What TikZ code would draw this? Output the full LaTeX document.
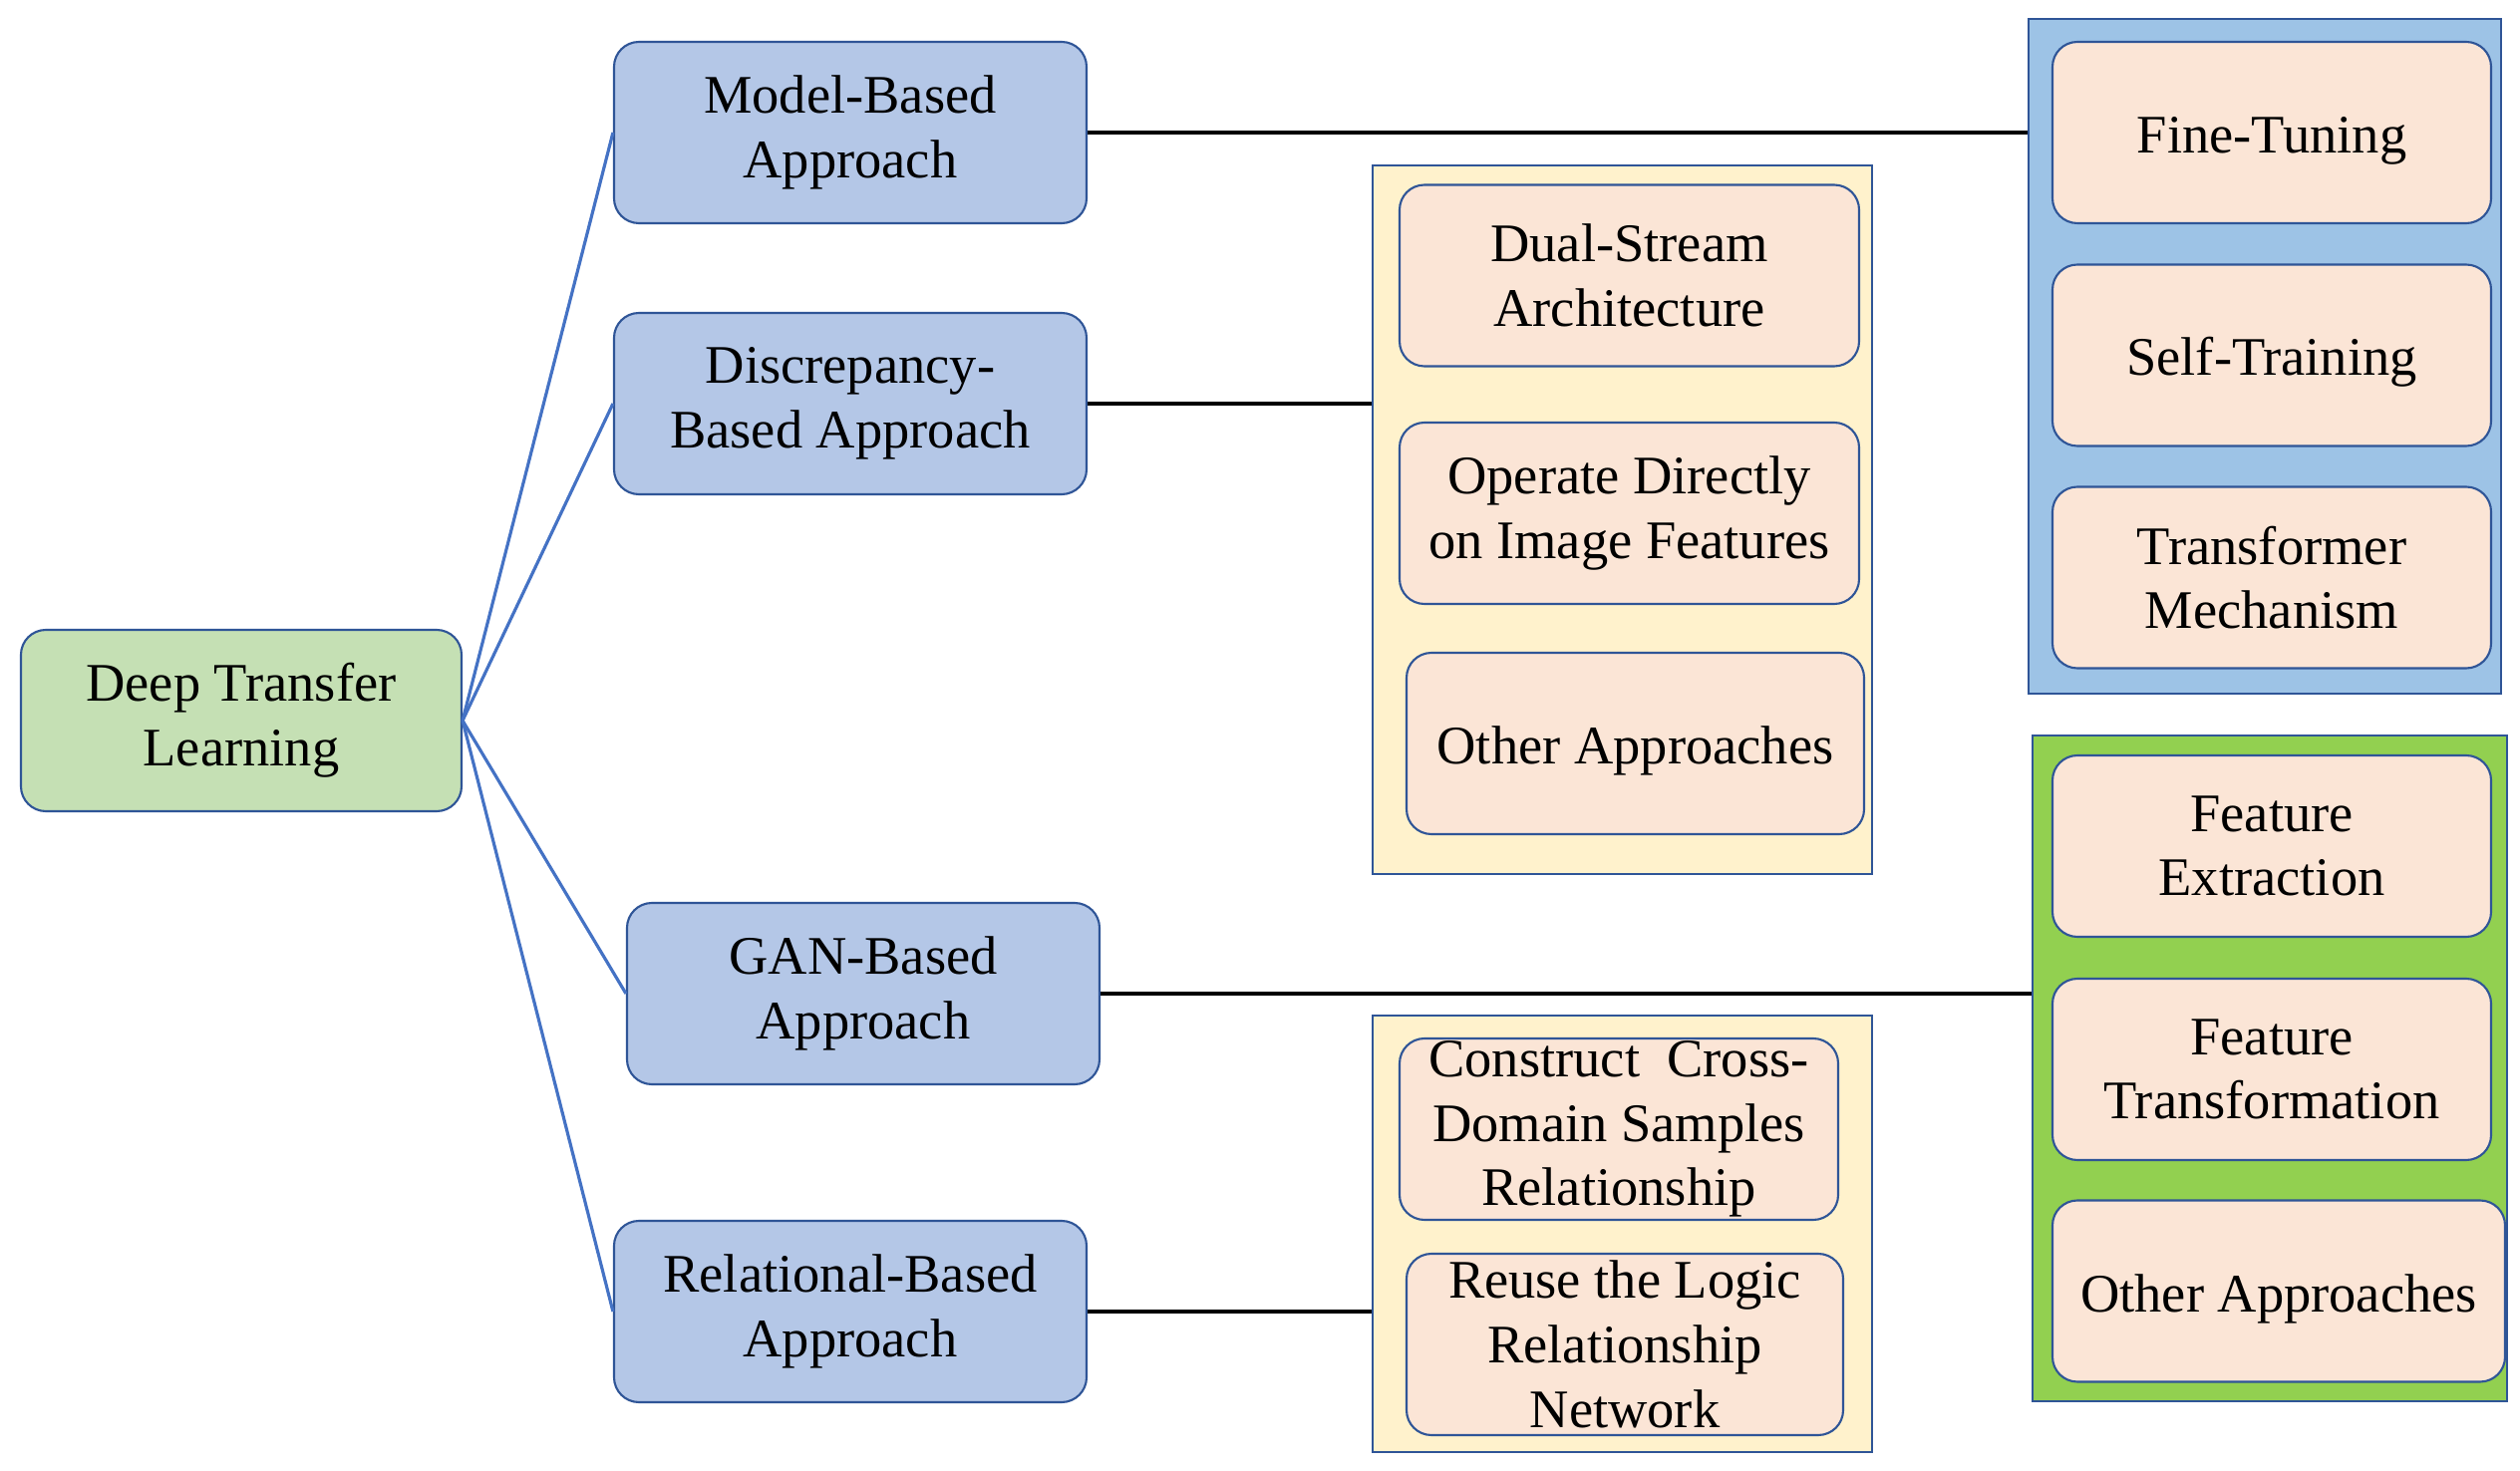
\documentclass[tikz,border=0pt]{standalone}
\usepackage{fontspec}
\setmainfont{Liberation Serif}
\usepackage{xcolor}
\usepackage{tikz}
\usetikzlibrary{positioning,calc}
\definecolor{lineBlue}  {HTML}{4472C4}
\definecolor{edgeBlue}  {HTML}{2F5597}
\definecolor{rootGreen} {HTML}{C5E0B4}
\definecolor{branchBlue}{HTML}{B4C7E7}
\definecolor{leafPeach} {HTML}{FBE5D6}
\definecolor{bandYellow}{HTML}{FFF2CC}
\definecolor{bandBlue}  {HTML}{9DC3E6}
\definecolor{bandGreen} {HTML}{92D050}

\begin{document}
\begin{tikzpicture}[
      font=\fontsize{15.5}{18.4}\selectfont,
      box/.style={draw=edgeBlue, line width=0.6pt, rounded corners=0.25cm,
                  align=center, inner sep=0pt,
                  execute at begin node={\rule{0pt}{15pt}}},
      root/.style={box, fill=rootGreen, minimum width=4.42cm, minimum height=1.82cm},
      branch/.style={box, fill=branchBlue, minimum width=4.74cm, minimum height=1.82cm},
      leaf/.style={box, fill=leafPeach, minimum width=4.4cm, minimum height=1.82cm},
      group/.style={draw=edgeBlue, line width=0.6pt, inner sep=0pt},
      spoke/.style={draw=lineBlue, line width=0.9pt},
      link/.style={draw=black, line width=1.1pt}]

    \useasboundingbox (0,0) rectangle (25.28,-14.76);

    % groups behind the leaves
    \node[group, fill=bandYellow, minimum width=5.01cm, minimum height=7.11cm] (grpA) at (16.275,-5.215) {};
    \node[group, fill=bandYellow, minimum width=5.01cm, minimum height=4.38cm] (grpB) at (16.275,-12.38) {};
    \node[group, fill=bandBlue,   minimum width=4.74cm, minimum height=6.77cm] (grpC) at (22.72,-3.575) {};
    \node[group, fill=bandGreen,  minimum width=4.76cm, minimum height=6.68cm] (grpD) at (22.77,-10.72) {};

    \node[root] (dtl) at (2.42,-7.23) {Deep Transfer\\Learning};

    \node[branch] (model) at (8.53,-1.33)  {Model-Based\\Approach};
    \node[branch] (disc)  at (8.53,-4.05)  {Discrepancy-\\Based Approach};
    \node[branch] (gan)   at (8.66,-9.97)  {GAN-Based\\Approach};
    \node[branch] (rel)   at (8.53,-13.16) {Relational-Based\\Approach};

    \node[leaf, minimum width=4.61cm] (dual)    at (16.345,-2.765) {Dual-Stream\\Architecture};
    \node[leaf, minimum width=4.61cm] (operate) at (16.345,-5.15)  {Operate Directly\\on Image Features};
    \node[leaf, minimum width=4.59cm] (otherA)  at (16.405,-7.46)  {Other Approaches};

    \node[leaf] (cross) at (16.24,-11.33) {Construct\ \ Cross-\\Domain Samples\\Relationship};
    \node[leaf, minimum width=4.38cm] (reuse) at (16.30,-13.49) {Reuse the Logic\\Relationship\\Network};

    \node[leaf] (fine)  at (22.79,-1.33)  {Fine-Tuning};
    \node[leaf] (self)  at (22.79,-3.565) {Self-Training};
    \node[leaf] (trans) at (22.79,-5.795) {Transformer\\Mechanism};

    \node[leaf] (fext)  at (22.79,-8.49)  {Feature\\Extraction};
    \node[leaf] (ftr)   at (22.79,-10.73) {Feature\\Transformation};
    \node[leaf, minimum width=4.54cm] (otherB) at (22.86,-12.955) {Other Approaches};

    \draw[spoke] (dtl.east) -- (model.west);
    \draw[spoke] (dtl.east) -- (disc.west);
    \draw[spoke] (dtl.east) -- (gan.west);
    \draw[spoke] (dtl.east) -- (rel.west);

    \draw[link] (model.east) -- (model.east -| grpC.west);
    \draw[link] (disc.east)  -- (disc.east -| grpA.west);
    \draw[link] (gan.east)   -- (gan.east -| grpD.west);
    \draw[link] (rel.east)   -- (rel.east -| grpB.west);
  \end{tikzpicture}
\end{document}
